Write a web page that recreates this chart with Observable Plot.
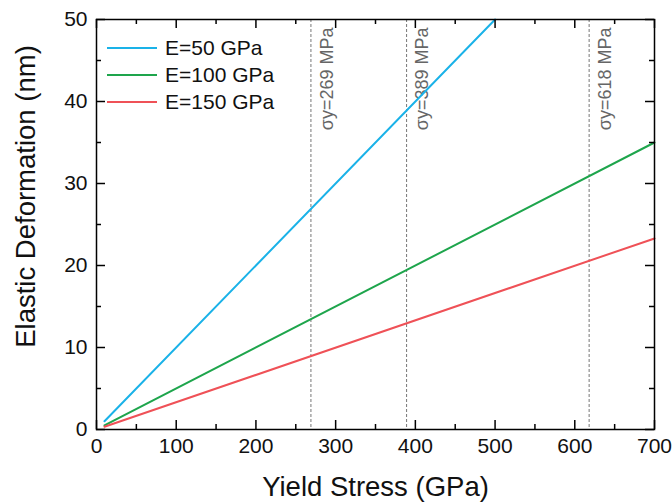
<!DOCTYPE html>
<html>
<head>
<meta charset="utf-8">
<script src="https://cdn.jsdelivr.net/npm/d3@7"></script>
<script src="https://cdn.jsdelivr.net/npm/@observablehq/plot@0.6"></script>
<style>
  html, body { margin: 0; padding: 0; background: #fff; }
  #wrap { position: relative; width: 672px; height: 503px; font-family: "Liberation Sans", Arial, sans-serif; }
  #legend { position: absolute; left: 107px; top: 34.5px; font-size: 21px; color: #111; }
  #legend .row { display: flex; align-items: center; height: 27px; }
  #legend .sw { width: 50px; height: 2px; margin-right: 8px; }
</style>
</head>
<body>
<div id="wrap"></div>
<script>
// Series
const seriesNames = ["E=50 GPa", "E=100 GPa", "E=150 GPa"];
const seriesColors = ["#1AB2E8", "#1EA54C", "#EF5157"];
const stressE50 = [10, 500];
const deformE50 = [1.0, 50];
const stressE100 = [10, 700];
const deformE100 = [0.5, 35];
const stressE150 = [10, 700];
const deformE150 = [0.33, 23.3];
// Yield-stress markers
const sigmaValues = [269, 389, 618];
const sigmaLabels = ["σy=269 MPa", "σy=389 MPa", "σy=618 MPa"];
// Ticks
const xMajor = [0, 100, 200, 300, 400, 500, 600, 700];
const xMinor = [50, 150, 250, 350, 450, 550, 650];
const yMajor = [0, 10, 20, 30, 40, 50];
const yMinor = [5, 15, 25, 35, 45];
// Axis titles
const xTitle = "Yield Stress (GPa)";
const yTitle = "Elastic Deformation (nm)";

const rows = [];
[[stressE50, deformE50], [stressE100, deformE100], [stressE150, deformE150]].forEach(([xs, ys], i) => {
  xs.forEach((x, j) => rows.push({series: seriesNames[i], x, y: ys[j]}));
});
const sigma = sigmaValues.map((v, i) => ({v, label: sigmaLabels[i]}));

const font = "'Liberation Sans', Arial, sans-serif";
const FH = 503 - 19 - 74, FW = 672 - 96 - 18;
const tk = {stroke: "#000", strokeWidth: 1.5};
const MAJ = 9, MIN = 5;

const chart = Plot.plot({
  width: 672,
  height: 503,
  marginLeft: 96,
  marginRight: 18,
  marginTop: 19,
  marginBottom: 74,
  style: {fontFamily: font, color: "#111", background: "#fff"},
  x: {domain: [0, 700]},
  y: {domain: [0, 50]},
  color: {domain: seriesNames, range: seriesColors},
  marks: [
    Plot.ruleX(sigma, {x: "v", stroke: "#777", strokeWidth: 1, strokeDasharray: "3,2"}),
    Plot.text(sigma, {x: "v", text: "label", frameAnchor: "top", rotate: -90, textAnchor: "end", dx: 9, dy: 8, fill: "#666", fontSize: 18}),
    Plot.line(rows, {x: "x", y: "y", z: "series", stroke: "series", strokeWidth: 2}),
    // inward ticks on all four sides
    Plot.tickX(xMajor, {x: d => d, insetTop: FH - MAJ, ...tk}),
    Plot.tickX(xMajor, {x: d => d, insetBottom: FH - MAJ, ...tk}),
    Plot.tickX(xMinor, {x: d => d, insetTop: FH - MIN, ...tk}),
    Plot.tickX(xMinor, {x: d => d, insetBottom: FH - MIN, ...tk}),
    Plot.tickY(yMajor, {y: d => d, insetRight: FW - MAJ, ...tk}),
    Plot.tickY(yMajor, {y: d => d, insetLeft: FW - MAJ, ...tk}),
    Plot.tickY(yMinor, {y: d => d, insetRight: FW - MIN, ...tk}),
    Plot.tickY(yMinor, {y: d => d, insetLeft: FW - MIN, ...tk}),
    Plot.axisX({ticks: xMajor, tickSize: 0, tickPadding: 9, fontSize: 21, anchor: "bottom", label: null}),
    Plot.axisY({ticks: yMajor, tickSize: 0, tickPadding: 9, fontSize: 21, anchor: "left", label: null}),
    Plot.axisX({ticks: [], tickSize: 0, fontSize: 27.5, anchor: "bottom",
      label: xTitle, labelAnchor: "center", labelOffset: 66, labelArrow: "none"}),
    Plot.text([yTitle], {text: d => d, frameAnchor: "left", textAnchor: "middle", lineAnchor: "middle",
      rotate: -90, dx: -70, dy: -28, fontSize: 27.5, fill: "#111"}),
    Plot.frame({stroke: "#000", strokeWidth: 1.5})
  ]
});

const wrap = document.getElementById("wrap");
wrap.appendChild(chart);

const legend = document.createElement("div");
legend.id = "legend";
seriesNames.forEach((n, i) => {
  const r = document.createElement("div");
  r.className = "row";
  r.innerHTML = `<span class="sw" style="background:${seriesColors[i]}"></span><span>${n}</span>`;
  legend.appendChild(r);
});
wrap.appendChild(legend);
</script>
</body>
</html>
